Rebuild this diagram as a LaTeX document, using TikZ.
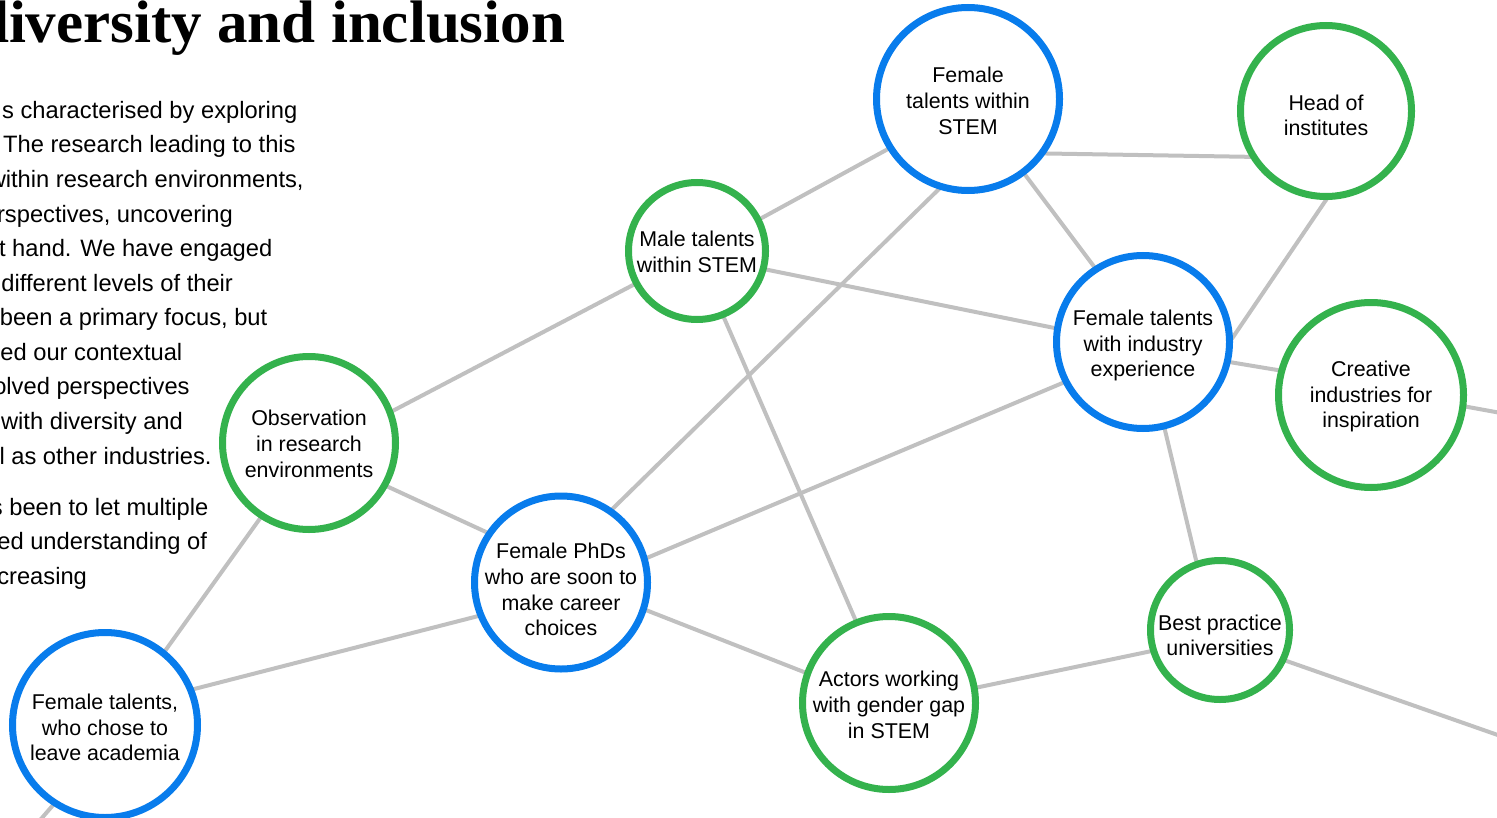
\documentclass[tikz,border=0pt]{standalone}
\usepackage{fontspec}
\setmainfont{Liberation Sans}
\newfontfamily\titlefont{Liberation Serif}
\usetikzlibrary{backgrounds}
\definecolor{nodeblue}{RGB}{8,124,236}
\definecolor{nodegreen}{RGB}{52,178,77}
\definecolor{edgegray}{RGB}{192,192,192}
\tikzset{
  ring/.style={circle, line width=3.5pt, fill=white, inner sep=0pt},
  hub/.style={ring, draw=nodeblue},
  spoke/.style={ring, draw=nodegreen},
  lbl/.style={align=center, inner sep=0pt, font=\fontsize{10.7}{12.85}\selectfont},
  link/.style={draw=edgegray, line width=2pt, shorten <=-3pt, shorten >=-3pt},
  bodyline/.style={anchor=base east, inner sep=0pt, font=\fontsize{11.85}{14}\selectfont},
}
\begin{document}
\begin{tikzpicture}[x=0.5pt,y=-0.5pt]
\useasboundingbox (0,0) rectangle (1497,818);

% title
\node[anchor=base east, inner sep=0pt, font=\titlefont\bfseries\fontsize{30}{36}\selectfont] (title) at (565.5,42.7) {\scalebox{1.017}[1]{diversity and inclusion}};

% body text
\node[bodyline] (t1) at (297.7,118.5) {s characterised by exploring};
\node[bodyline] (t2) at (296,153) {The research leading to this};
\node[bodyline] (t3) at (304,187.6) {within research environments,};
\node[bodyline] (t4) at (233.3,222.2) {rspectives, uncovering};
\node[bodyline] (t5) at (272.7,256.7) {t hand. We have engaged};
\node[bodyline] (t6) at (233.3,291.3) {different levels of their};
\node[bodyline] (t7) at (267.7,325.8) {been a primary focus, but};
\node[bodyline] (t8) at (182.7,360.4) {ed our contextual};
\node[bodyline] (t9) at (190,394.9) {olved perspectives};
\node[bodyline] (t10) at (183.3,429.5) {with diversity and};
\node[bodyline] (t11) at (212,464) {l as other industries.};
\node[bodyline] (t12) at (208.7,515.3) {s been to let multiple};
\node[bodyline] (t13) at (207.3,549.9) {ed understanding of};
\node[bodyline] (t14) at (87.3,584.4) {creasing};

% nodes
\node[hub, minimum size=91.5pt, label={[lbl, yshift=-1pt]center:{Female\\talents within\\STEM}}] (stem) at (968,99) {};
\node[spoke, minimum size=85.5pt, label={[lbl, yshift=-2.2pt]center:{Head of\\institutes}}] (head) at (1326,111) {};
\node[spoke, minimum size=68.5pt, label={[lbl, yshift=-0.3pt]center:{Male talents\\within STEM}}] (male) at (697,251) {};
\node[hub, minimum size=86.5pt, label={[lbl, yshift=-1.8pt]center:{Female talents\\with industry\\experience}}] (ind) at (1143,342) {};
\node[spoke, minimum size=92.5pt, label={[lbl, yshift=-0.8pt]center:{Creative\\industries for\\inspiration}}] (crea) at (1371,395) {};
\node[spoke, minimum size=86.5pt, label={[lbl, yshift=-0.5pt]center:{Observation\\in research\\environments}}] (obs) at (309,443) {};
\node[hub, minimum size=86.5pt, label={[lbl, yshift=-3.6pt]center:{Female PhDs\\who are soon to\\make career\\choices}}] (phd) at (561,582.5) {};
\node[spoke, minimum size=86.5pt, label={[lbl, yshift=-1pt]center:{Actors working\\with gender gap\\in STEM}}] (act) at (889,703) {};
\node[spoke, minimum size=69.5pt, label={[lbl, yshift=-2.7pt]center:{Best practice\\universities}}] (best) at (1220,630) {};
\node[hub, minimum size=92.5pt, label={[lbl, yshift=-1.3pt]center:{Female talents,\\who chose to\\leave academia}}] (leave) at (105,725) {};

\coordinate (offA) at (1512,415);
\coordinate (offB) at (1512,740);
\coordinate (offC) at (28,834);

\begin{pgfonlayer}{background}
\draw[link] (stem.212) -- (male.27);
\draw[link] (stem.325) -- (head.211);
\draw[link] (stem.307) -- (ind.123);
\draw[link] (stem.252) -- (phd.55);
\draw[link] (head.270) -- (ind.3);
\draw[link] (male.345) -- (ind.171);
\draw[link] (male.208) -- (obs.21);
\draw[link] (male.292) -- (act.112);
\draw[link] (ind.347) -- (crea.165);
\draw[link] (ind.207) -- (phd.16);
\draw[link] (ind.284) -- (best.109);
\draw[link, shorten >=0pt] (crea.353) -- (offA);
\draw[link] (obs.331) -- (phd.146);
\draw[link] (obs.237) -- (leave.51);
\draw[link] (phd.202) -- (leave.22);
\draw[link] (phd.342) -- (act.160);
\draw[link] (act.10) -- (best.197);
\draw[link, shorten >=0pt] (best.335) -- (offB);
\draw[link, shorten >=0pt] (leave.237) -- (offC);
\end{pgfonlayer}
\end{tikzpicture}
\end{document}
